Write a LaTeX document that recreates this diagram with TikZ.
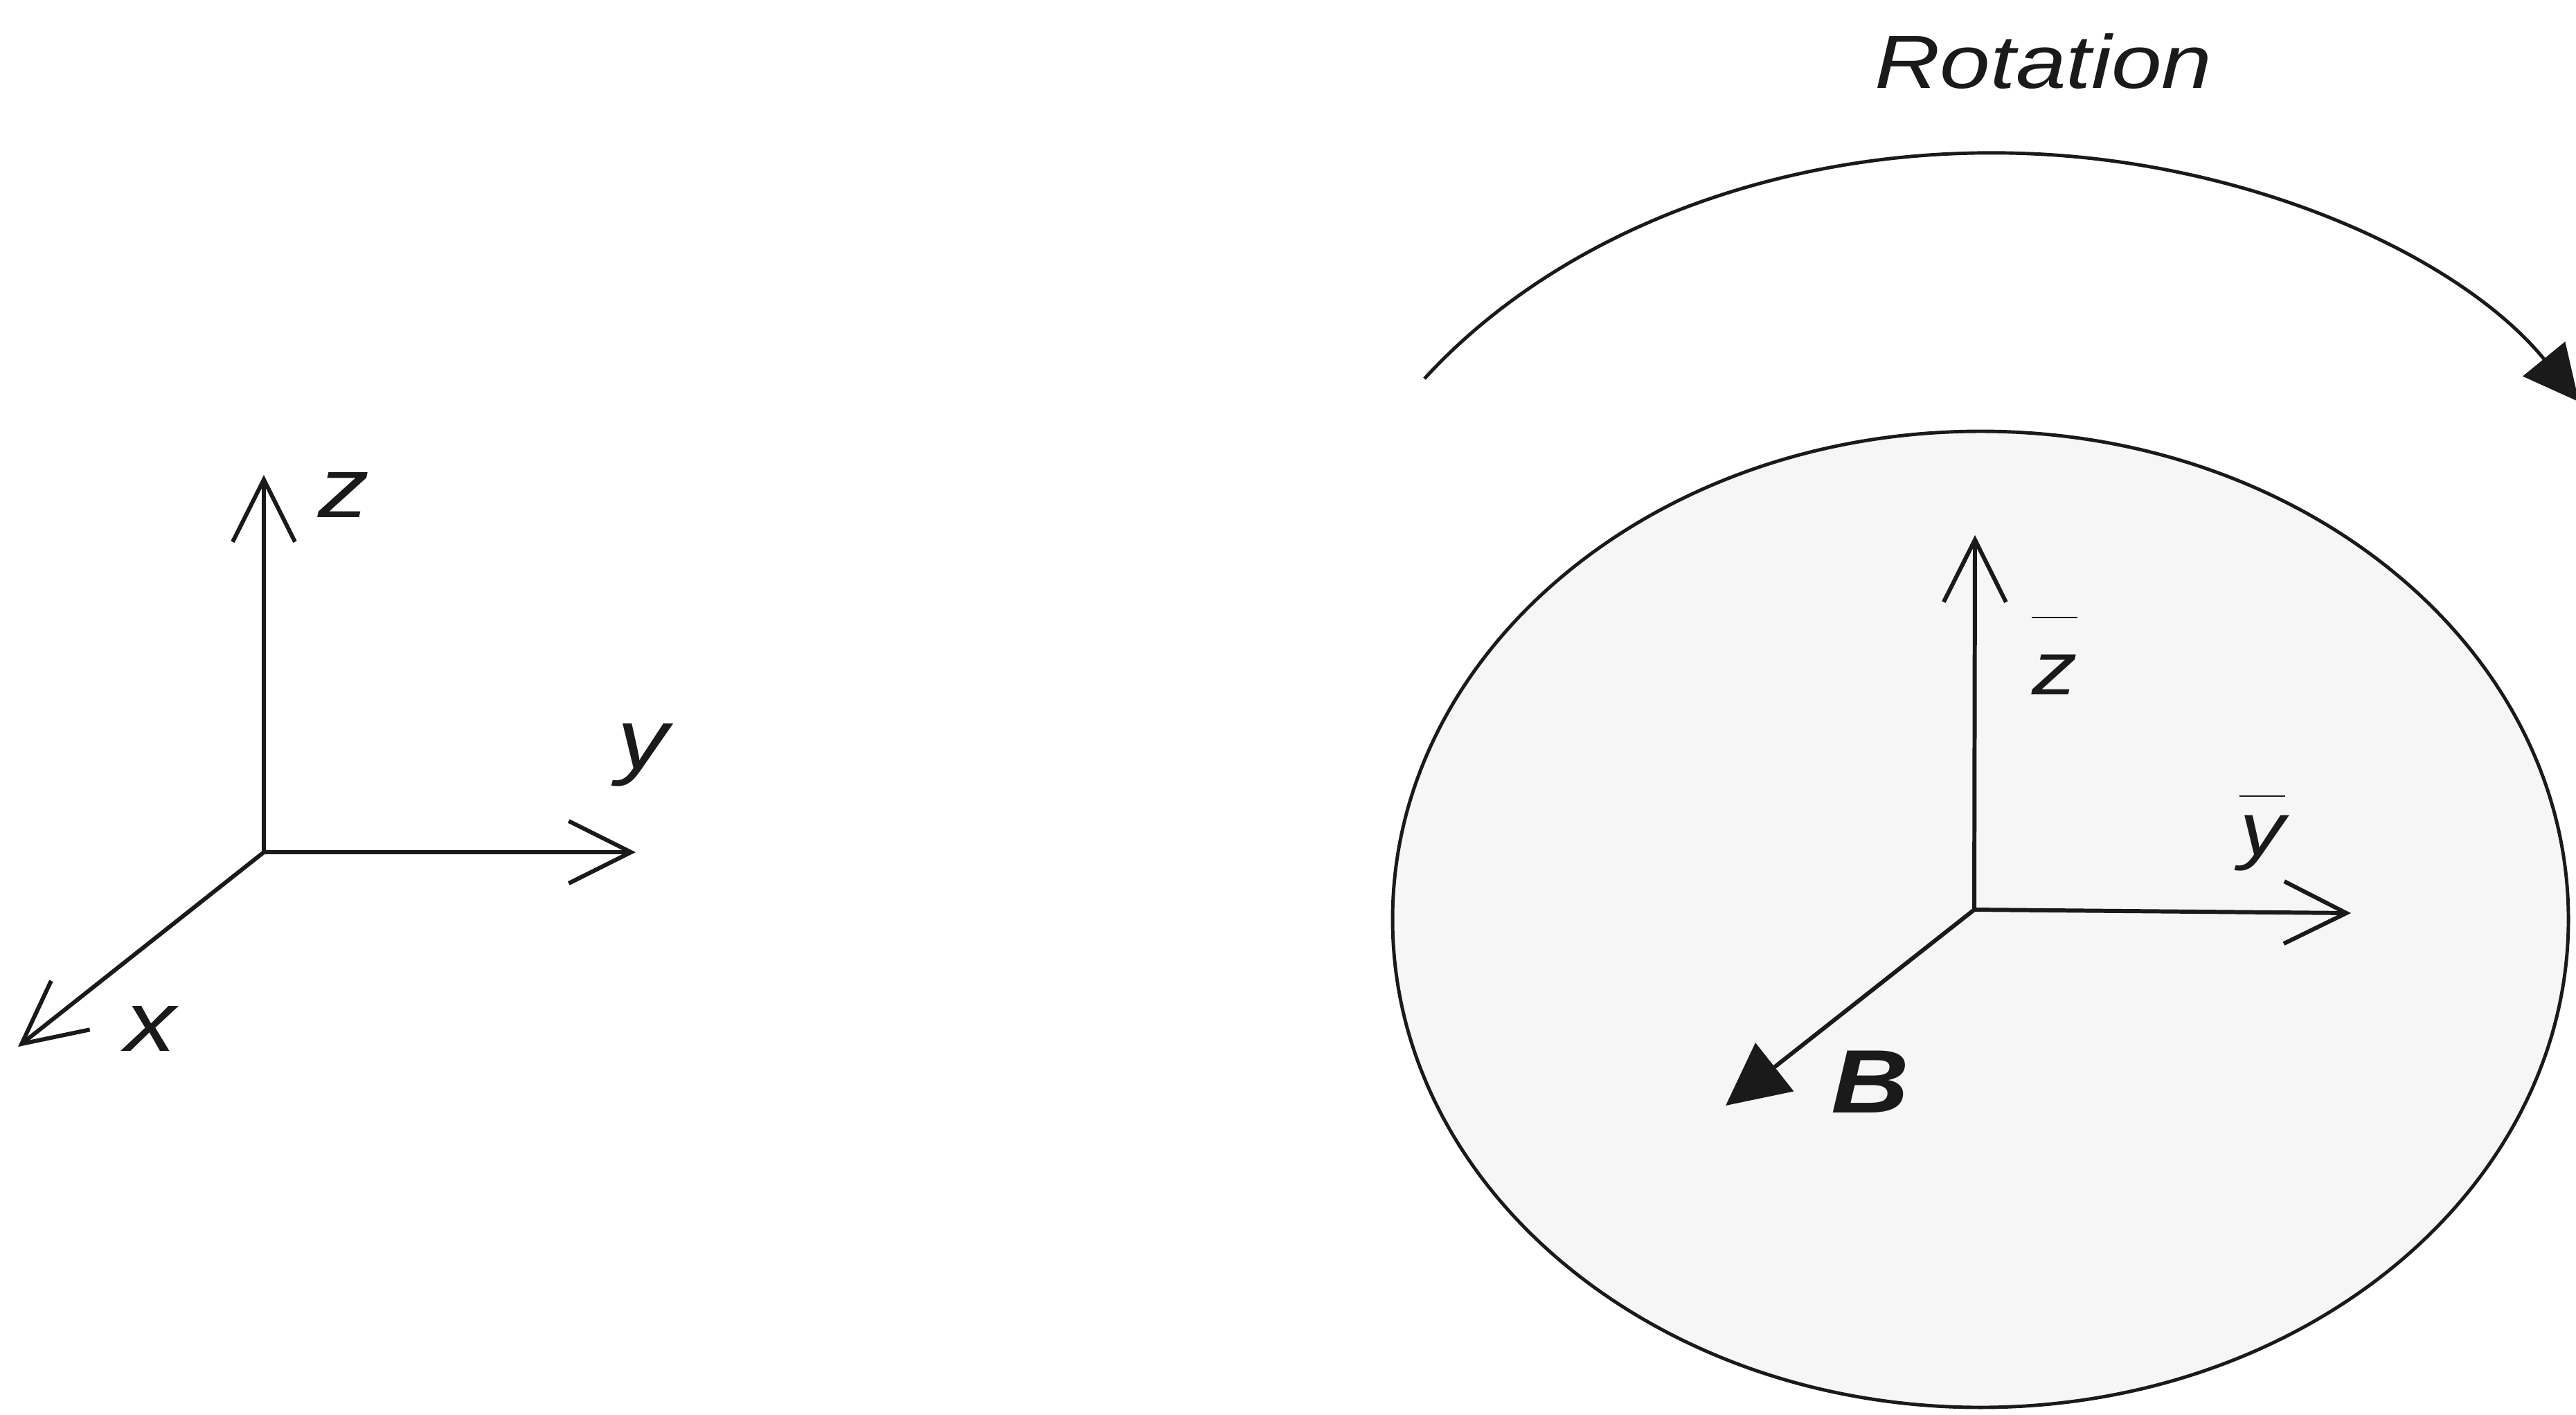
\documentclass[tikz,border=0pt]{standalone}
\usepackage{fontspec}
\setmainfont{Liberation Sans}
\usetikzlibrary{arrows.meta}
\definecolor{Ink}{HTML}{1A1A1A}
\definecolor{DiscF}{HTML}{F6F6F6}

\begin{document}
\begin{tikzpicture}[x=0.5cm,y=0.5cm,
    axis/.style={draw=Ink,line width=0.85pt,
      -{Straight Barb[length=0.45cm,width=0.45cm]}},
    field/.style={draw=Ink,line width=0.85pt,
      -{Triangle[length=0.45cm,width=0.44cm]}},
    spin/.style={draw=Ink,line width=0.7pt,
      -{Triangle[length=0.4cm,width=0.39cm]}},
    disc/.style={draw=Ink,fill=DiscF,line width=0.7pt},
    lbl/.style={font=\fontsize{17.5}{20}\selectfont\itshape,text=Ink,
      inner sep=0pt,anchor=base,xscale=1.2},
    blbl/.style={lbl,font=\fontsize{15.5}{18}\selectfont\itshape}]
  \fill[white] (0,0) rectangle (37.2,-20.43);
  \useasboundingbox (0,0) rectangle (37.2,-20.43);

  % fixed frame
  \coordinate (O) at (3.81,-12.31);
  \coordinate (Z) at (3.81,-6.86);
  \coordinate (Y) at (9.18,-12.31);
  \coordinate (X) at (0.26,-15.12);
  \draw[axis] (O) -- (Z);
  \draw[axis] (O) -- (Y);
  \draw[axis] (O) -- (X);
  \node[lbl] (zlbl) at (4.96,-7.47) {z};
  \node[lbl] (ylbl) at (9.28,-11.10) {y};
  \node[lbl] (xlbl) at (2.17,-15.18) {x};

  % rotating disc
  \coordinate (C) at (28.60,-13.28);
  \draw[disc] (C) ellipse [x radius=8.49,y radius=7.05];
  \coordinate (rotS) at (20.57,-5.47);
  \draw[spin] (rotS) arc [start angle=145,end angle=32,x radius=10,y radius=7.65];
  \node[blbl] (rotlbl) at (29.51,-1.27) {Rotation};

  % body frame
  \coordinate (Ob) at (28.51,-13.14);
  \coordinate (Zb) at (28.52,-7.73);
  \coordinate (Yb) at (33.95,-13.19);
  \coordinate (Bt) at (24.92,-15.97);
  \draw[axis] (Ob) -- (Zb);
  \draw[axis] (Ob) -- (Yb);
  \draw[field] (Ob) -- (Bt);
  \node[blbl] (zblbl) at (29.67,-10.03) {$\overline{\raisebox{0pt}[14.4pt]{z}}$};
  \node[blbl] (yblbl) at (32.67,-12.35) {$\overline{\raisebox{0pt}[10.7pt]{y}}$};
  \node[lbl,font=\fontsize{18.5}{21}\selectfont\bfseries\itshape] (Blbl)
    at (27.01,-16.07) {B};
\end{tikzpicture}
\end{document}
